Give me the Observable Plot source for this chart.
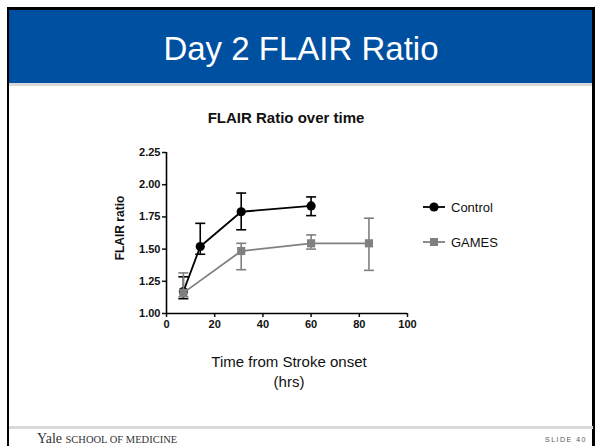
<!DOCTYPE html>
<html>
<head>
<meta charset="utf-8">
<script src="https://cdn.jsdelivr.net/npm/d3@7"></script>
<script src="https://cdn.jsdelivr.net/npm/@observablehq/plot@0.6"></script>
<style>
  html, body { margin: 0; padding: 0; background: #fff; }
  #slide { position: relative; width: 596px; height: 446px; overflow: hidden; background: #fff; font-family: "Liberation Sans", Arial, sans-serif; }
  .abs { position: absolute; }
  #frame { left: 7px; top: 7px; width: 583px; height: 460px; border-top: 3px solid #000; border-left: 2px solid #000; border-right: 3px solid #000; }
  #band { left: 9px; top: 10px; width: 584px; height: 73px; background: #0050A2; }
  #bandline { left: 9px; top: 83px; width: 584px; height: 3px; background: #d9d9d9; }
  #title { left: 9px; width: 584px; top: 32px; text-align: center; color: #fff; font-size: 33px; line-height: 33px; }
  #ctitle { left: 0; width: 572px; top: 110px; text-align: center; font-weight: bold; font-size: 15px; line-height: 15px; color: #111; }
  #ylab { left: 120px; top: 228px; font-weight: bold; font-size: 12px; line-height: 12px; transform: translate(-50%, -50%) rotate(-90deg); white-space: nowrap; color: #111; }
  #xlab { left: 0; width: 578px; top: 352px; text-align: center; font-size: 15px; line-height: 20px; color: #111; }
  #chart { left: 0; top: 90px; }
  #legend { left: 423px; top: 198px; font-size: 13px; color: #111; }
  .lg { display: flex; align-items: center; height: 18px; }
  .lg svg { margin-right: 6px; }
  #footline { left: 9px; top: 426px; width: 584px; height: 3px; background: #d9d9d9; }
  #yale { left: 37px; top: 431px; font-family: "Liberation Serif", "Times New Roman", serif; font-size: 14px; color: #333; white-space: nowrap; }
  #yale .sc { font-size: 10.5px; }
  #slideno { left: 545px; top: 436px; font-size: 7px; letter-spacing: 1.5px; color: #555; }
</style>
</head>
<body>
<div id="slide">
  <div class="abs" id="band"></div>
  <div class="abs" id="bandline"></div>
  <div class="abs" id="frame"></div>
  <div class="abs" id="title">Day 2 FLAIR Ratio</div>
  <div class="abs" id="ctitle">FLAIR Ratio over time</div>
  <div class="abs" id="chart"></div>
  <div class="abs" id="ylab">FLAIR ratio</div>
  <div class="abs" id="xlab">Time from Stroke onset<br>(hrs)</div>
  <div class="abs" id="legend"></div>
  <div class="abs" id="footline"></div>
  <div class="abs" id="yale">Yale <span class="sc">SCHOOL OF MEDICINE</span></div>
  <div class="abs" id="slideno">SLIDE 40</div>
</div>
<script>
// ---- data ----
const seriesNames = ["Control", "GAMES"];
const seriesColors = ["#000000", "#808080"];

const controlX = [7, 14, 31, 60];
const controlMean = [1.17, 1.52, 1.79, 1.835];
const controlLow = [1.115, 1.46, 1.65, 1.76];
const controlHigh = [1.285, 1.70, 1.935, 1.905];

const gamesX = [7, 31, 60, 84];
const gamesMean = [1.16, 1.485, 1.545, 1.545];
const gamesLow = [1.13, 1.34, 1.50, 1.335];
const gamesHigh = [1.315, 1.545, 1.61, 1.74];

const xTicks = [0, 20, 40, 60, 80, 100];
const yTicks = [1.00, 1.25, 1.50, 1.75, 2.00, 2.25];

// ---- build table ----
function rows(name, xs, m, lo, hi) {
  return xs.map((x, i) => ({series: name, x, mean: m[i], lo: lo[i], hi: hi[i]}));
}
const control = rows("Control", controlX, controlMean, controlLow, controlHigh);
const games = rows("GAMES", gamesX, gamesMean, gamesLow, gamesHigh);

// horizontal cap symbol for error bars
const capSymbol = {
  draw(ctx, size) {
    const w = Math.sqrt(size / Math.PI);
    ctx.moveTo(-w, 0);
    ctx.lineTo(w, 0);
  }
};

function seriesMarks(data, color, symbol) {
  return [
    Plot.ruleX(data, {x: "x", y1: "lo", y2: "hi", stroke: color, strokeWidth: 1.6}),
    Plot.dot(data, {x: "x", y: "lo", symbol: capSymbol, r: 5, stroke: color, strokeWidth: 1.6}),
    Plot.dot(data, {x: "x", y: "hi", symbol: capSymbol, r: 5, stroke: color, strokeWidth: 1.6}),
    Plot.line(data, {x: "x", y: "mean", stroke: color, strokeWidth: 1.8}),
    Plot.dot(data, {x: "x", y: "mean", symbol, r: 4.6, fill: color, stroke: "none"})
  ];
}

const chart = Plot.plot({
  width: 596,
  height: 310,
  marginLeft: 166,
  marginRight: 189,
  marginTop: 62,
  marginBottom: 87,
  style: {fontFamily: "'Liberation Sans', Arial, sans-serif", fontSize: "11px", fontWeight: "bold", color: "#111", background: "transparent"},
  x: {domain: [0, 100], ticks: xTicks, tickSize: 4, tickPadding: 3, label: null, tickFormat: d3.format("d")},
  y: {domain: [1, 2.25], ticks: yTicks, tickSize: 4, tickPadding: 2, label: null, tickFormat: d3.format(".2f")},
  marks: [
    ...seriesMarks(control, seriesColors[0], "circle"),
    ...seriesMarks(games, seriesColors[1], "square"),
    Plot.ruleX([0], {y1: 1, y2: 2.25, stroke: "#000", strokeWidth: 1.6}),
    Plot.ruleY([1], {x1: 0, x2: 100, stroke: "#000", strokeWidth: 1.6})
  ]
});
chart.querySelectorAll("[aria-label$='tick'] path, [aria-label$='tick'] line").forEach(e => e.setAttribute("stroke-width", 1.5));
document.getElementById("chart").appendChild(chart);

// ---- legend ----
const legend = document.getElementById("legend");
seriesNames.forEach((name, i) => {
  const row = document.createElement("div");
  row.className = "lg";
  row.style.marginBottom = i === 0 ? "17px" : "0";
  const sym = i === 0
    ? `<circle cx="11" cy="9" r="4.6" fill="${seriesColors[i]}"/>`
    : `<rect x="7" y="5" width="8" height="8" fill="${seriesColors[i]}"/>`;
  row.innerHTML = `<svg width="22" height="18"><line x1="0" x2="22" y1="9" y2="9" stroke="${seriesColors[i]}" stroke-width="1.8"/>${sym}</svg><span>${name}</span>`;
  legend.appendChild(row);
});
</script>
</body>
</html>
